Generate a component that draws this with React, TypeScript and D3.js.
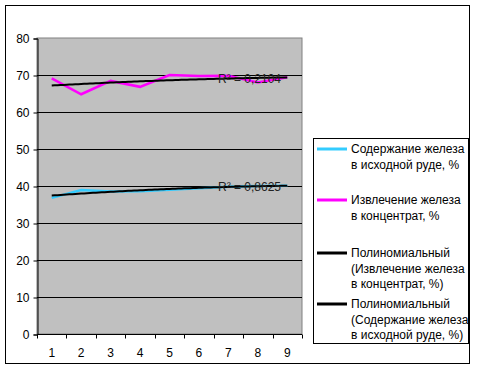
import { useEffect, useRef } from 'react';
import * as d3 from 'd3';

const categories = ['1', '2', '3', '4', '5', '6', '7', '8', '9'];
const extraction = [69.1, 64.8, 68.4, 66.8, 70.0, 69.7, 69.8, 68.0, 69.4];
const content = [36.8, 38.9, 38.5, 38.6, 39.0, 39.4, 39.8, 40.0, 40.1];
const yTicks = [0, 10, 20, 30, 40, 50, 60, 70, 80];
const r2Labels = ['R² = 0,2104', 'R² = 0,8625'];

const legendItems = [
  { color: '#33CCFF', lines: ['Содержание железа', 'в исходной руде, %'] },
  { color: '#FF00FF', lines: ['Извлечение железа', 'в концентрат, %'] },
  { color: '#000000', lines: ['Полиномиальный', '(Извлечение железа', 'в концентрат, %)'] },
  { color: '#000000', lines: ['Полиномиальный', '(Содержание железа', 'в исходной руде, %)'] },
];

// quadratic least-squares fit, returns y(x)
function polyFit2(ys: number[]) {
  const xs = ys.map((_, i) => i + 1);
  const n = xs.length;
  let s1 = 0, s2 = 0, s3 = 0, s4 = 0, t0 = 0, t1 = 0, t2 = 0;
  xs.forEach((x, i) => {
    const y = ys[i];
    s1 += x; s2 += x * x; s3 += x ** 3; s4 += x ** 4;
    t0 += y; t1 += x * y; t2 += x * x * y;
  });
  const M = [[n, s1, s2, t0], [s1, s2, s3, t1], [s2, s3, s4, t2]];
  for (let c = 0; c < 3; c++) {
    for (let r = c + 1; r < 3; r++) {
      const f = M[r][c] / M[c][c];
      for (let k = c; k < 4; k++) M[r][k] -= f * M[c][k];
    }
  }
  const co = [0, 0, 0];
  for (let r = 2; r >= 0; r--) {
    let s = M[r][3];
    for (let k = r + 1; k < 3; k++) s -= M[r][k] * co[k];
    co[r] = s / M[r][r];
  }
  return (x: number) => co[0] + co[1] * x + co[2] * x * x;
}

export default function App() {
  const svgRef = useRef<SVGSVGElement>(null);

  useEffect(() => {
    if (!svgRef.current) return;
    const svg = d3.select(svgRef.current);
    svg.selectAll('*').remove();

    const W = 477, H = 370;
    const P = { left: 37, right: 302, top: 38, bottom: 334 };
    const font = 'Liberation Sans, Arial, sans-serif';

    svg.append('rect').attr('width', W).attr('height', H).attr('fill', '#fff');
    svg.append('rect')
      .attr('x', 5.5).attr('y', 5.5).attr('width', 464).attr('height', 358)
      .attr('fill', 'none').attr('stroke', '#000');

    const x = d3.scaleBand().domain(categories).range([P.left, P.right]);
    const xc = (i: number) => x(categories[0])! + x.bandwidth() * (i - 0.5);
    const y = d3.scaleLinear().domain([0, 80]).range([P.bottom, P.top]);

    // plot area
    svg.append('rect')
      .attr('x', P.left).attr('y', P.top)
      .attr('width', P.right - P.left).attr('height', P.bottom - P.top)
      .attr('fill', '#C0C0C0').attr('stroke', '#808080');

    // gridlines
    svg.append('g').selectAll('line')
      .data(yTicks.filter((t) => t > 0 && t < 80))
      .join('line')
      .attr('x1', P.left).attr('x2', P.right)
      .attr('y1', (d) => Math.round(y(d)) + 0.5).attr('y2', (d) => Math.round(y(d)) + 0.5)
      .attr('stroke', '#000');

    // y axis
    const yAxis = d3.axisLeft(y).tickValues(yTicks).tickSize(4).tickPadding(4);
    const gy = svg.append('g').attr('transform', `translate(${P.left + 0.5},0.5)`).call(yAxis);
    gy.selectAll('text').attr('font-size', 12).attr('font-family', font).attr('fill', '#000');
    gy.selectAll('line, path').attr('stroke', '#000');

    // x axis with ticks at band boundaries
    const gx = svg.append('g').attr('transform', `translate(0,${P.bottom + 0.5})`);
    gx.append('line').attr('x1', P.left).attr('x2', P.right).attr('stroke', '#000');
    const bounds = [...categories.map((c) => x(c)!), P.right];
    gx.selectAll('line.tk').data(bounds).join('line').attr('class', 'tk')
      .attr('x1', (d) => Math.round(d) + 0.5).attr('x2', (d) => Math.round(d) + 0.5)
      .attr('y1', 0).attr('y2', 4).attr('stroke', '#000');
    gx.selectAll('text').data(categories).join('text')
      .attr('x', (d) => x(d)! + x.bandwidth() / 2).attr('y', 22)
      .attr('text-anchor', 'middle').attr('font-size', 12).attr('font-family', font)
      .text((d) => d);

    const line = d3.line<number>().x((_, i) => xc(i + 1)).y((d) => y(d));

    // trend curves
    const xs = d3.range(1, 9.001, 0.1);
    const trendLine = d3.line<number>().x((d) => xc(d)).y((d) => d);

    const series = [
      { data: extraction, color: '#FF00FF', label: r2Labels[0] },
      { data: content, color: '#33CCFF', label: r2Labels[1] },
    ];
    series.forEach((s) => {
      svg.append('path').datum(s.data).attr('d', line)
        .attr('fill', 'none').attr('stroke', s.color).attr('stroke-width', 2.5);
    });
    series.forEach((s) => {
      const f = polyFit2(s.data);
      svg.append('path').datum(xs.map((v) => y(f(v))))
        .attr('d', (d) => trendLine.x((_, i) => xc(xs[i]))(d))
        .attr('fill', 'none').attr('stroke', '#000').attr('stroke-width', 2);
      svg.append('text')
        .attr('x', 218).attr('y', y(f(7)) + 4)
        .attr('font-size', 12).attr('font-family', font).attr('fill', '#222')
        .text(s.label);
    });

    // legend
    const L = { x: 313.5, y: 138.5, w: 155, h: 205 };
    svg.append('rect').attr('x', L.x).attr('y', L.y).attr('width', L.w).attr('height', L.h)
      .attr('fill', '#fff').attr('stroke', '#000');
    const starts = [149, 200, 253, 304];
    legendItems.forEach((it, i) => {
      const g = svg.append('g').attr('transform', `translate(0,${starts[i]})`);
      g.append('line').attr('x1', 317).attr('x2', 347).attr('y1', 0).attr('y2', 0)
        .attr('stroke', it.color).attr('stroke-width', 3);
      it.lines.forEach((t, j) => {
        g.append('text').attr('x', 351).attr('y', j * 15.5 + 4)
          .attr('font-size', 12).attr('font-family', font).attr('fill', '#000').text(t);
      });
    });
  }, []);

  return (
    <svg
      ref={svgRef}
      width={477}
      height={370}
      viewBox="0 0 477 370"
      style={{ position: 'fixed', left: 0, top: 0, display: 'block' }}
    />
  );
}
